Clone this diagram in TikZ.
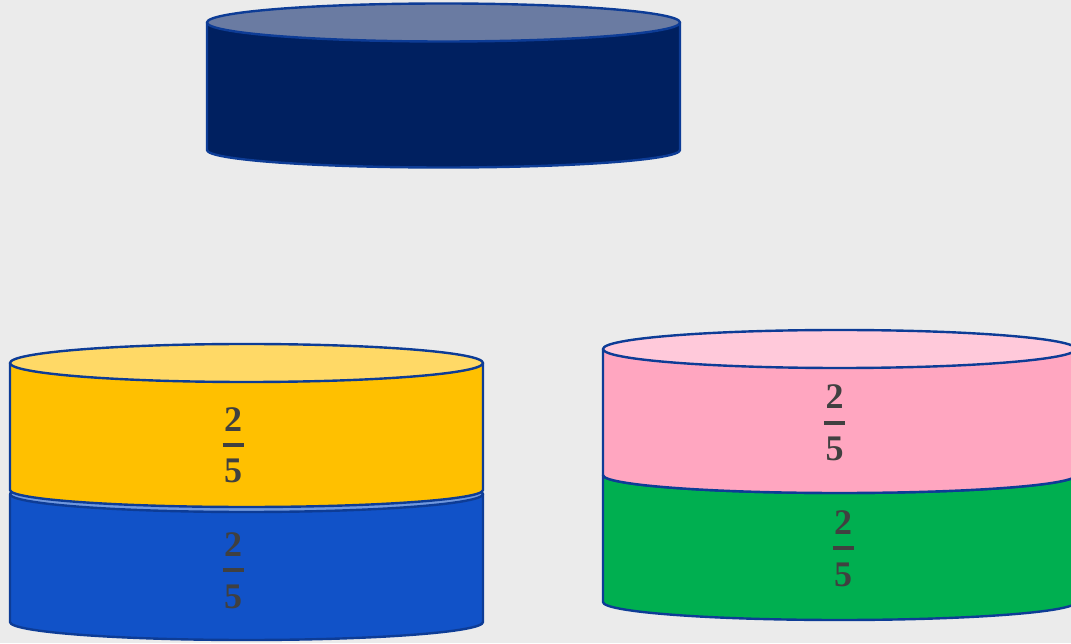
\documentclass[tikz,border=0pt]{standalone}
\usepackage{fontspec}
\newfontfamily\fracfont{Liberation Serif}
\definecolor{bg}{HTML}{EBEBEB}
\definecolor{edge}{HTML}{0D3C96}
\definecolor{navy}{HTML}{002060}
\definecolor{navytop}{HTML}{6A7BA2}
\definecolor{gold}{HTML}{FFC000}
\definecolor{goldtop}{HTML}{FFD966}
\definecolor{royal}{HTML}{1152C8}
\definecolor{royaltop}{HTML}{7098DE}
\definecolor{rose}{HTML}{FFA6C0}
\definecolor{rosetop}{HTML}{FFC9DA}
\definecolor{leaf}{HTML}{00AF50}
\definecolor{ink}{HTML}{404040}
\tikzset{
  digit/.style={inner sep=0pt, text=ink, font=\fracfont\bfseries\fontsize{36}{36}\selectfont},
  fracbar/.style={draw=ink, line width=3.6pt},
  cylline/.style={draw=edge, line width=2.4pt, line join=round}
}
% #1 left x, #2 right x, #3 top centre y, #4 top ry, #5 bottom centre y, #6 bottom ry, #7 body, #8 top
\newcommand\drawcyl[8]{%
  \pgfmathsetmacro\cylrx{(#2-#1)/2}%
  \pgfmathsetmacro\cylcx{(#2+#1)/2}%
  \path[cylline, fill=#7] (#1,#3) -- (#1,#5)
    arc[start angle=180, end angle=360, x radius=\cylrx, y radius=#6] -- (#2,#3) -- cycle;
  \path[cylline, fill=#8] (\cylcx,#3) ellipse[x radius=\cylrx, y radius=#4];
}
\begin{document}
\begin{tikzpicture}[x=1pt, y=1pt]
\useasboundingbox (0,0) rectangle (1071,643);
\fill[bg] (0,0) rectangle (1071,643);
\clip (0,0) rectangle (1071,643);

% top navy cylinder
\drawcyl{207}{680}{620.5}{19}{493}{17.5}{navy}{navytop}

% left stack
\drawcyl{10}{483}{149}{18}{21}{18}{royal}{royaltop}
\drawcyl{10}{483}{280}{19}{153}{17}{gold}{goldtop}

% right stack
\drawcyl{603}{1076}{168}{18}{41}{18}{leaf}{leaf}
\drawcyl{603}{1076}{294}{19}{168}{18}{rose}{rosetop}

% fractions
\node[digit] (yn) at (233,223) {2};
\node[digit] (yd) at (233,172) {5};
\coordinate (yb) at (233,198);
\draw[fracbar] ([xshift=-10.5pt]yb) -- ([xshift=10.5pt]yb);

\node[digit] (bn) at (233,98) {2};
\node[digit] (bd) at (233,46) {5};
\coordinate (bb) at (233,73);
\draw[fracbar] ([xshift=-10.5pt]bb) -- ([xshift=10.5pt]bb);

\node[digit] (pn) at (834.5,246) {2};
\node[digit] (pd) at (834.5,194) {5};
\coordinate (pb) at (834.5,220);
\draw[fracbar] ([xshift=-10.5pt]pb) -- ([xshift=10.5pt]pb);

\node[digit] (gn) at (843,120) {2};
\node[digit] (gd) at (843,68) {5};
\coordinate (gb) at (843,95);
\draw[fracbar] ([xshift=-10.5pt]gb) -- ([xshift=10.5pt]gb);
\end{tikzpicture}
\end{document}
